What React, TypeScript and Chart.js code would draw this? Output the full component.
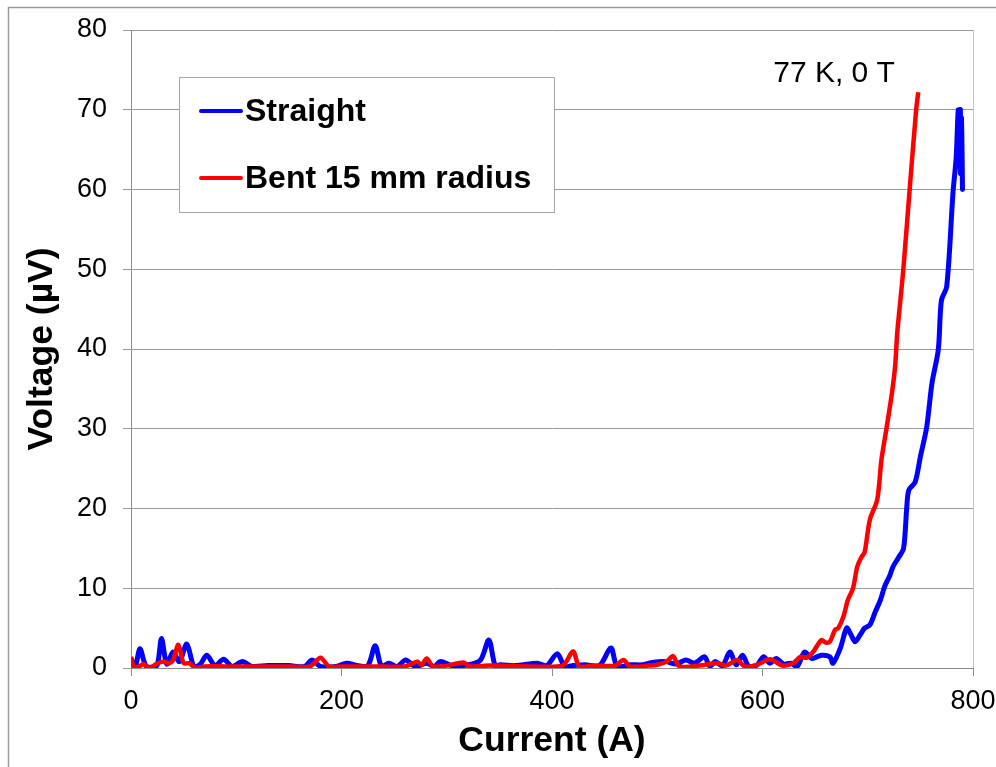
import React, { useEffect, useRef } from 'react';
import { Chart, registerables } from 'chart.js';

Chart.register(...registerables);

// ---- Data ----
const seriesLabels = ['Straight', 'Bent 15 mm radius'];
const seriesColors = ['#0000ff', '#ff0000'];

const straightCurrent = [
  0, 4, 8.5, 14, 20, 25, 29, 34, 40, 46, 53, 60, 66, 72, 80, 88, 96, 106, 115, 130,
  150, 165, 172, 180, 195, 205, 215, 225, 232, 238, 245, 253, 261, 270, 281, 288, 294, 305, 320, 332,
  340, 346, 351, 365, 386, 395, 405, 412, 420, 431, 445, 456, 462, 475, 486, 495, 508, 518, 527, 535,
  538, 545, 550, 555, 562, 569, 575, 581, 587, 595, 601, 607, 613, 620, 627, 633, 640, 647, 656, 664,
  667, 674, 680, 684, 688, 693, 697, 702, 707, 712, 716, 721, 724, 729, 734, 737, 739, 745, 750, 756,
  761, 767, 770, 775, 781, 784, 786, 787, 788, 788, 789, 790, 789,
];
const straightVoltage = [
  1.2, 0.2, 2.4, 0.3, 0.1, 0.4, 3.7, 0.5, 2.0, 0.8, 3.0, 0.1, 0.5, 1.6, 0.3, 1.1, 0.2, 0.8, 0.2, 0.3,
  0.3, 0.2, 1.0, 0.2, 0.2, 0.6, 0.3, 0.3, 2.8, 0.2, 0.6, 0.2, 1.0, 0.2, 0.6, 0.2, 0.8, 0.3, 0.4, 1.0,
  3.5, 0.3, 0.4, 0.3, 0.6, 0.3, 1.8, 0.2, 0.3, 0.4, 0.3, 2.5, 0.2, 0.4, 0.4, 0.7, 0.8, 0.5, 1.0, 0.6,
  0.8, 1.4, 0.2, 0.8, 0.3, 2.0, 0.4, 1.6, 0.2, 0.4, 1.4, 0.6, 1.2, 0.5, 0.6, 0.2, 2.0, 1.2, 1.6, 1.4,
  0.6, 2.5, 5.0, 4.2, 3.3, 4.2, 5.0, 5.4, 7.0, 8.5, 10.2, 11.6, 12.7, 13.8, 15.0, 20.0, 22.3, 23.3, 26.5, 30.2,
  35.7, 39.9, 46.1, 47.8, 59.6, 64, 70, 66, 70, 62, 69, 60, 68,
];

const bentCurrent = [
  0, 3, 8, 12, 18, 24, 31, 36, 40, 45, 50, 55, 62, 70, 90, 120, 150, 170, 180, 188,
  200, 230, 260, 272, 276, 281, 287, 300, 316, 322, 340, 380, 410, 420, 426, 440, 460, 468, 474, 492,
  500, 509, 515, 521, 540, 557, 565, 576, 583, 595, 607, 619, 629, 636, 642, 648, 656, 660, 664, 669,
  672, 677, 681, 686, 690, 694, 697, 702, 709, 713, 718, 723, 726, 728, 731, 734, 740, 746, 748,
];
const bentVoltage = [
  1.4, 0, 0.2, 0.5, 0, 0.5, 0.8, 0.6, 1.0, 2.9, 0.6, 0.6, 0.0, 0.2, 0.2, 0.2, 0.2, 0.2, 1.3, 0.2,
  0.2, 0.2, 0.2, 0.8, 0.4, 1.2, 0.2, 0.3, 0.7, 0.2, 0.3, 0.2, 0.3, 2.1, 0.2, 0.3, 0.3, 1.0, 0.2, 0.3,
  0.4, 0.8, 1.5, 0.2, 0.3, 0.6, 0.3, 1.0, 0.2, 0.4, 1.1, 0.3, 0.6, 1.4, 1.3, 2.0, 3.5, 3.2, 3.3, 4.8,
  5.0, 6.5, 8.5, 10.0, 12.7, 13.9, 14.5, 18.6, 21.1, 26.1, 30.2, 34.5, 37.8, 42, 46.1, 50.3, 60.3, 70, 72.2,
];

const xAxis = { min: 0, max: 800, step: 200, title: 'Current (A)' };
const yAxis = { min: 0, max: 80, step: 10, title: 'Voltage (µV)' };
const annotation = { text: '77 K, 0 T', current: 668, voltage: 74.5 };

const FONT = "'Liberation Sans', Arial, sans-serif";

const toPoints = (xs: number[], ys: number[]) => xs.map((x, i) => ({ x, y: ys[i] }));

const decorPlugin = {
  id: 'decor',
  beforeDraw(chart: any) {
    const ctx = chart.ctx;
    ctx.save();
    ctx.fillStyle = '#ffffff';
    ctx.fillRect(0, 0, chart.width, chart.height);
    ctx.restore();
  },
  afterDraw(chart: any) {
    const ctx = chart.ctx;
    const { left, right, top, bottom } = chart.chartArea;
    ctx.save();
    // outer chart-area frame (left and top edges visible)
    ctx.strokeStyle = '#9a9a9a';
    ctx.lineWidth = 1.5;
    ctx.beginPath();
    ctx.moveTo(8.5, chart.height);
    ctx.lineTo(8.5, 7.5);
    ctx.lineTo(chart.width, 7.5);
    ctx.stroke();
    // plot area right border
    ctx.strokeStyle = '#c4c4c4';
    ctx.lineWidth = 1;
    ctx.beginPath();
    ctx.moveTo(Math.round(right) + 0.5, top);
    ctx.lineTo(Math.round(right) + 0.5, bottom);
    ctx.stroke();

    // legend box
    const bx = left + 48.5, by = top + 47.5, bw = 375, bh = 135;
    ctx.fillStyle = '#ffffff';
    ctx.fillRect(bx, by, bw, bh);
    ctx.strokeStyle = '#a6a6a6';
    ctx.lineWidth = 1;
    ctx.strokeRect(bx, by, bw, bh);
    ctx.font = `bold 32px ${FONT}`;
    ctx.textBaseline = 'middle';
    ctx.textAlign = 'left';
    const rows = [top + 81, top + 148];
    chart.data.datasets.forEach((ds: any, i: number) => {
      const yy = rows[i];
      ctx.strokeStyle = ds.borderColor;
      ctx.lineWidth = 4;
      ctx.lineCap = 'round';
      ctx.beginPath();
      ctx.moveTo(left + 70, yy);
      ctx.lineTo(left + 110, yy);
      ctx.stroke();
      ctx.fillStyle = '#000000';
      ctx.fillText(ds.label, left + 114, yy + 1);
    });

    // annotation text
    const ax = chart.scales.x.getPixelForValue(annotation.current);
    const ay = chart.scales.y.getPixelForValue(annotation.voltage);
    ctx.font = `30px ${FONT}`;
    ctx.textAlign = 'center';
    ctx.fillStyle = '#000000';
    ctx.fillText(annotation.text, ax, ay);
    ctx.restore();
  },
};

export default function App() {
  const ref = useRef<HTMLCanvasElement | null>(null);

  useEffect(() => {
    document.body.style.margin = '0';
    if (!ref.current) return;
    const chart = new Chart(ref.current, {
      type: 'scatter',
      data: {
        datasets: [
          {
            label: seriesLabels[0],
            data: toPoints(straightCurrent, straightVoltage),
            borderColor: seriesColors[0],
            backgroundColor: seriesColors[0],
            borderWidth: 5,
            showLine: true,
            tension: 0.3,
            pointRadius: 0,
            order: 1,
          },
          {
            label: seriesLabels[1],
            data: toPoints(bentCurrent, bentVoltage),
            borderColor: seriesColors[1],
            backgroundColor: seriesColors[1],
            borderWidth: 4.5,
            showLine: true,
            tension: 0.3,
            pointRadius: 0,
            order: 0,
          },
        ],
      },
      options: {
        animation: false,
        responsive: false,
        devicePixelRatio: 1,
        layout: { padding: { left: 0, right: 23, top: 30, bottom: 0 } },
        plugins: { legend: { display: false }, tooltip: { enabled: false } },
        scales: {
          x: {
            type: 'linear',
            min: xAxis.min,
            max: xAxis.max,
            ticks: {
              stepSize: xAxis.step,
              color: '#000000',
              font: { family: FONT, size: 27 },
              padding: 9,
              maxRotation: 0,
            },
            grid: { drawOnChartArea: false, drawTicks: true, tickLength: 8, color: '#8c8c8c' },
            border: { color: '#8c8c8c', width: 1 },
            title: {
              display: true,
              text: xAxis.title,
              color: '#000000',
              font: { family: FONT, size: 35.5, weight: 'bold' },
              padding: { top: 0, bottom: 4 },
            },
            afterFit: (s: any) => { s.height = 99; s.paddingLeft = 0; s.paddingRight = 0; },
          },
          y: {
            type: 'linear',
            min: yAxis.min,
            max: yAxis.max,
            ticks: {
              stepSize: yAxis.step,
              color: '#000000',
              font: { family: FONT, size: 27 },
              padding: 16,
            },
            grid: { color: '#9a9a9a', lineWidth: 1, tickLength: 8 },
            border: { color: '#8c8c8c', width: 1 },
            title: {
              display: true,
              text: yAxis.title,
              color: '#000000',
              font: { family: FONT, size: 35.5, weight: 'bold' },
              padding: { top: 21, bottom: 0 },
            },
            afterFit: (s: any) => { s.width = 131; s.paddingTop = 0; s.paddingBottom = 0; },
          },
        },
      },
      plugins: [decorPlugin],
    });
    return () => chart.destroy();
  }, []);

  return (
    <canvas ref={ref} width={996} height={767} style={{ display: 'block' }} />
  );
}
